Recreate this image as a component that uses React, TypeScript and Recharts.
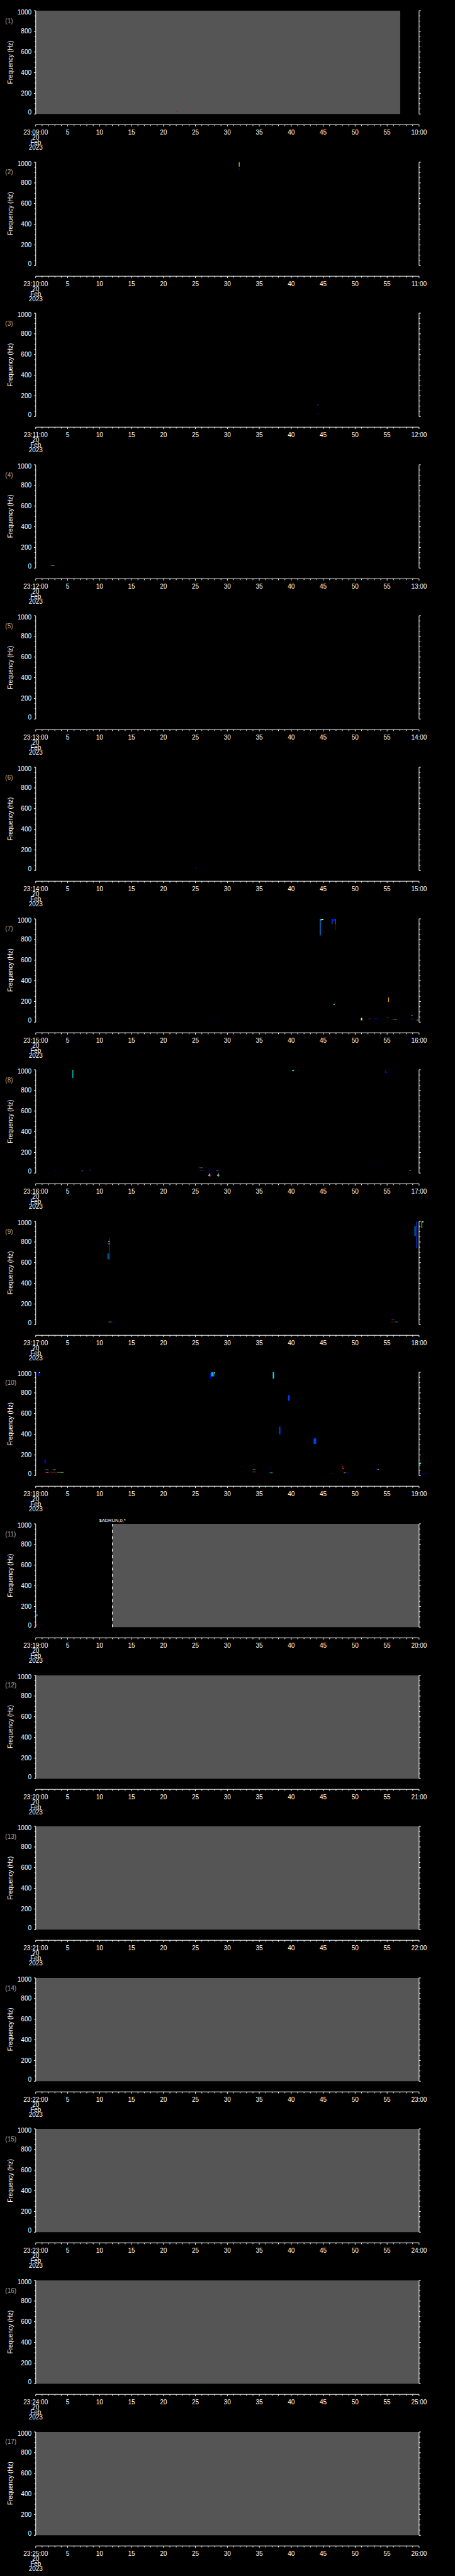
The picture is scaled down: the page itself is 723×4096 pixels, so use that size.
import React from 'react';
import { ComposedChart, XAxis, YAxis, Line, ReferenceArea, ReferenceLine, ReferenceDot } from 'recharts';

const W = 723;
const FONT = '"Liberation Sans", Arial, sans-serif';
const PANEL_STEP = 240.6;
const PANEL_TOP0 = 16.92;
const CHART_H = 242;
const M_TOP = 14;

const startLabels = ['23:09:00', '23:10:00', '23:11:00', '23:12:00', '23:13:00', '23:14:00', '23:15:00', '23:16:00', '23:17:00', '23:18:00', '23:19:00', '23:20:00', '23:21:00', '23:22:00', '23:23:00', '23:24:00', '23:25:00'];
const endLabels = ['10:00', '11:00', '12:00', '13:00', '14:00', '15:00', '16:00', '17:00', '18:00', '19:00', '20:00', '21:00', '22:00', '23:00', '24:00', '25:00', '26:00'];
const dateLines = ['20', 'Feb', '2023'];
const xTicks = [0, 1, 2, 3, 4, 5, 6, 7, 8, 9, 10, 11, 12, 13, 14, 15, 16, 17, 18, 19, 20, 21, 22, 23, 24, 25, 26, 27, 28, 29, 30, 31, 32, 33, 34, 35, 36, 37, 38, 39, 40, 41, 42, 43, 44, 45, 46, 47, 48, 49, 50, 51, 52, 53, 54, 55, 56, 57, 58, 59, 60];
const yTicks = [0, 50, 100, 150, 200, 250, 300, 350, 400, 450, 500, 550, 600, 650, 700, 750, 800, 850, 900, 950, 1000];
// time range (s) and frequency range (Hz) of each panel; the invisible anchor series keeps the axes drawn
const axisAnchor = [{ t: 0, f: 0 }, { t: 60, f: 1000 }];

// gray "no data" ranges per panel [t0, t1] in seconds
const grayRanges: (number[] | null)[] = [[0, 57.05], null, null, null, null, null, null, null, null, null, [12, 60], [0, 60], [0, 60], [0, 60], [0, 60], [0, 60], [0, 60]];

const B = '#0000ff', D = '#0040ff', L = '#0090ff', C = '#00e0ff', G = '#40ff90', Y = '#ffff00', O = '#ff9900', R = '#d00000';

type Mark = [number, number, number, number, string];
const marks1: Mark[] = [[22.0, 22.25, 19, 24, R]];
const marks2: Mark[] = [[31.8, 31.9, 958, 1000, Y], [31.78, 31.85, 930, 938, B], [31.85, 31.92, 930, 938, R]];
const marks3: Mark[] = [[44.1, 44.2, 110, 115, G], [44.2, 44.3, 110, 115, B], [44.1, 44.2, 27, 31, R], [44.2, 44.3, 27, 31, B]];
const marks4: Mark[] = [[2.17, 2.5, 22, 26, R], [2.5, 2.75, 22, 26, Y], [2.75, 2.96, 22, 26, C]];
const marks5: Mark[] = [];
const marks6: Mark[] = [[24.97, 25.2, 23, 27, R], [26.0, 26.2, 23, 27, B]];
const marks7: Mark[] = [
  [44.45, 44.6, 840, 1000, L], [44.6, 44.8, 985, 1000, G], [44.8, 45.0, 988, 1000, Y],
  [46.35, 46.45, 950, 1000, L], [46.45, 46.85, 975, 1000, B], [46.85, 46.95, 950, 1000, L], [46.95, 47.0, 890, 1000, D],
  [46.6, 46.8, 167, 178, G], [55.17, 55.3, 196, 239, O],
  [50.9, 51.1, 17, 41, Y], [52.1, 52.4, 30, 35, R], [52.9, 53.5, 30, 35, B], [55.0, 55.2, 39, 44, G],
  [55.7, 56.1, 22, 27, R], [56.1, 56.5, 22, 27, C], [58.77, 58.97, 64, 69, G], [58.8, 59.0, 30, 35, R],
  [59.0, 59.3, 28, 33, B], [59.4, 59.6, 18, 22, B], [59.6, 59.9, 18, 22, Y], [28.2, 28.35, 31, 35, B],
];
const marks8: Mark[] = [
  [5.75, 5.87, 920, 1000, C], [40.15, 40.43, 987, 1000, C], [54.67, 54.8, 970, 1000, B], [54.8, 55.06, 968, 975, B],
  [2.95, 3.28, 22, 26, B], [7.1, 7.3, 17, 22, R], [7.3, 7.45, 20, 25, L], [8.3, 8.45, 28, 32, R], [8.45, 8.6, 28, 32, C],
  [25.5, 25.8, 49, 54, R], [25.8, 26.1, 49, 53, G], [25.6, 26.1, 23, 27, R], [26.1, 26.5, 23, 27, B],
  [27.0, 27.5, 20, 24, B], [28.3, 28.5, 20, 24, C], [28.5, 28.75, 20, 24, B], [53.25, 53.4, 49, 53, B], [58.5, 58.7, 20, 24, Y],
];
const marks9: Mark[] = [
  [11.55, 11.65, 632, 842, D], [11.35, 11.55, 800, 808, Y], [11.25, 11.65, 779, 784, C], [11.25, 11.4, 632, 690, L],
  [11.25, 11.55, 24, 28, R], [11.55, 11.85, 24, 28, Y], [11.85, 12.2, 22, 26, B],
  [59.29, 59.45, 857, 954, L], [59.57, 59.7, 742, 1000, D], [60.37, 60.5, 935, 1000, C], [60.5, 60.69, 990, 1000, Y],
  [55.6, 55.9, 97, 101, B], [55.6, 55.85, 49, 53, R], [55.85, 56.1, 49, 53, C], [55.6, 56.3, 24, 28, R], [56.3, 56.65, 24, 28, C],
];
const marks10: Mark[] = [
  [0.37, 0.5, 962, 1000, B], [0.5, 0.69, 993, 1000, Y], [27.3, 27.5, 939, 990, B], [27.5, 27.7, 960, 1000, C],
  [27.8, 27.95, 960, 1000, L], [27.95, 28.1, 990, 1000, Y], [37.1, 37.3, 939, 1000, C], [39.5, 39.75, 725, 778, D],
  [38.1, 38.3, 400, 475, D], [43.5, 43.9, 307, 360, D], [1.37, 1.6, 117, 153, B], [2.56, 2.8, 98, 102, B],
  [1.36, 1.65, 55, 59, R], [1.65, 1.97, 55, 59, C], [2.56, 2.85, 55, 59, R], [2.85, 3.1, 55, 59, Y],
  [1.36, 1.7, 29, 33, R], [1.7, 2.0, 29, 33, Y], [2.0, 2.3, 29, 33, B], [2.3, 3.4, 29, 33, R], [3.4, 3.9, 29, 33, C], [3.9, 4.35, 29, 33, Y],
  [33.9, 34.25, 98, 102, B], [33.9, 34.1, 58, 62, R], [34.1, 34.35, 58, 62, C], [33.9, 34.2, 34, 38, C], [34.2, 34.4, 34, 38, Y],
  [36.56, 36.84, 63, 69, B], [36.6, 36.9, 25, 29, C], [36.9, 37.05, 25, 29, Y], [37.05, 37.25, 25, 29, B],
  [46.2, 46.45, 21, 25, R], [48.0, 48.1, 64, 93, R], [48.1, 48.3, 62, 66, Y], [48.1, 48.3, 25, 29, R], [48.3, 48.5, 25, 29, Y], [48.5, 49.0, 25, 29, B],
  [53.3, 53.5, 58, 62, B], [53.5, 53.7, 58, 62, Y], [53.3, 53.6, 34, 38, B], [59.96, 60.3, 110, 125, C], [60.0, 60.1, 21, 41, R], [60.1, 61.0, 21, 25, B],
];
const marks11: Mark[] = [[0.09, 0.29, 106, 123, L], [0.09, 0.2, 12, 33, R], [0.2, 0.97, 21, 25, B]];
const emptyMarks: Mark[] = [];
const panelMarks: Mark[][] = [marks1, marks2, marks3, marks4, marks5, marks6, marks7, marks8, marks9, marks10, marks11, emptyMarks, emptyMarks, emptyMarks, emptyMarks, emptyMarks, emptyMarks];

// text annotations: [panelIndex, t, f, text]
const annotations: [number, number, number, string][] = [[7, 27.19, -22, '4'], [7, 28.55, -22, '4']];
const flagLines: [number, number, string][] = [[10, 12, '$ADRUN,0,*']];

const makeXTick = (idx: number) => (props: any) => {
  const { x, y, payload } = props;
  const v = payload.value;
  const major = v % 5 === 0;
  const len = major ? 2.9 : 2.2;
  let label: string | null = null;
  if (v === 0) label = startLabels[idx];
  else if (v === 60) label = endLabels[idx];
  else if (major) label = String(v);
  return (
    <g>
      <line x1={x} x2={x} y1={y} y2={y + len} stroke="#fff" strokeWidth={1} />
      {label && (
        <text x={x} y={y + 15.5} textAnchor="middle" fill="#fff" fontSize={10} fontFamily={FONT}>{label}</text>
      )}
      {v === 0 && dateLines.map((d, i) => (
        <text key={d} x={x} y={y + 23.75 + i * 8.25} textAnchor="middle" fill="#fff" fontSize={10} fontFamily={FONT}>{d}</text>
      ))}
    </g>
  );
};

const YTickL = (props: any) => {
  const { x, y, payload } = props;
  const v = payload.value;
  const major = v % 200 === 0;
  const len = major ? 2.8 : 1.9;
  const adj = v === 1000 ? 2.3 : v === 0 ? -3.3 : 0;
  return (
    <g>
      <line x1={x - len} x2={x} y1={y} y2={y} stroke="#fff" strokeWidth={1} />
      {major && (
        <text x={x - 6.7} y={y + 3.6 + adj} textAnchor="end" fill="#fff" fontSize={10} fontFamily={FONT}>{v}</text>
      )}
    </g>
  );
};

const YTickR = (props: any) => {
  const { x, y, payload } = props;
  const v = payload.value;
  const major = v % 200 === 0;
  const len = major ? 2.8 : 1.9;
  return <line x1={x} x2={x + len} y1={y} y2={y} stroke="#fff" strokeWidth={1} />;
};

function Panel({ idx }: { idx: number }) {
  const top = PANEL_TOP0 - M_TOP + idx * PANEL_STEP;
  const gray = grayRanges[idx];
  const marks = panelMarks[idx];
  return (
    <div style={{ position: 'absolute', left: 0, top, width: W, height: CHART_H }}>
      <ComposedChart width={W} height={CHART_H} data={axisAnchor} margin={{ top: M_TOP, right: 56.1, bottom: 45.8, left: 55.75 }}>
        <XAxis type="number" dataKey="t" domain={[0, 60]} ticks={xTicks} interval={0} allowDataOverflow height={1}
          tickSize={0} tickMargin={0} tickLine={false} axisLine={{ stroke: '#fff', strokeWidth: 1 }} tick={makeXTick(idx)} />
        <YAxis yAxisId="l" type="number" domain={[-103, 1000]} ticks={yTicks} interval={0} allowDataOverflow width={1}
          tickSize={0} tickMargin={0} tickLine={false} axisLine={false} tick={YTickL} />
        <YAxis yAxisId="r" orientation="right" type="number" domain={[-103, 1000]} ticks={yTicks} interval={0} allowDataOverflow width={1}
          tickSize={0} tickMargin={0} tickLine={false} axisLine={false} tick={YTickR} />
        <Line yAxisId="l" dataKey="f" stroke="none" dot={false} activeDot={false} isAnimationActive={false} legendType="none" />
        <Line yAxisId="r" dataKey="f" stroke="none" dot={false} activeDot={false} isAnimationActive={false} legendType="none" />
        {gray && (
          <ReferenceArea yAxisId="l" x1={gray[0]} x2={gray[1]} y1={0} y2={1000} fill="#555555" fillOpacity={1} stroke="none" ifOverflow="visible" />
        )}
        {marks.map((m, i) => (
          <ReferenceArea key={i} yAxisId="l" x1={m[0]} x2={m[1]} y1={m[2]} y2={m[3]} fill={m[4]} fillOpacity={1} stroke="none" ifOverflow="visible" />
        ))}
        {flagLines.filter((f) => f[0] === idx).map((f, i) => (
          <ReferenceLine key={'f' + i} yAxisId="l" segment={[{ x: f[1], y: 0 }, { x: f[1], y: 1000 }]} stroke="#fff" strokeWidth={1}
            strokeDasharray="4.7 5.3" ifOverflow="visible"
            label={{ value: f[2], position: 'top', fill: '#fff', fontSize: 7.5, fontFamily: FONT, offset: 3 }} />
        ))}
        {annotations.filter((a) => a[0] === idx).map((a, i) => (
          <ReferenceDot key={'a' + i} yAxisId="l" x={a[1]} y={a[2]} r={0} stroke="none" fill="none" ifOverflow="visible"
            label={{ value: a[3], position: 'center', fill: '#fff', fontSize: 7, fontFamily: FONT }} />
        ))}
        <ReferenceLine yAxisId="l" segment={[{ x: 0, y: 0 }, { x: 0, y: 1000 }]} stroke="#fff" strokeWidth={1} ifOverflow="visible" />
        <ReferenceLine yAxisId="l" segment={[{ x: 60, y: 0 }, { x: 60, y: 1000 }]} stroke="#fff" strokeWidth={1} ifOverflow="visible" />
      </ComposedChart>
    </div>
  );
}

export default function App() {
  const idxs = startLabels.map((_, i) => i);
  return (
    <div style={{ position: 'absolute', left: 0, top: 0, width: W, height: 4096, background: '#000', overflow: 'hidden' }}>
      {idxs.map((i) => <Panel key={i} idx={i} />)}
      <svg width={W} height={4096} style={{ position: 'absolute', left: 0, top: 0, pointerEvents: 'none' }}>
        {idxs.map((i) => {
          const pt = PANEL_TOP0 + i * PANEL_STEP;
          return (
            <g key={i}>
              <text x={8.3} y={pt + 19.8} fill="#a8a8a8" fontSize={10} fontFamily={FONT}>({i + 1})</text>
              <text x={0} y={0} transform={`translate(16.4, ${pt + 82.1}) rotate(-90)`} textAnchor="middle" dominantBaseline="central"
                fill="#fff" fontSize={10} fontFamily={FONT}>Frequency (Hz)</text>
            </g>
          );
        })}
      </svg>
    </div>
  );
}
